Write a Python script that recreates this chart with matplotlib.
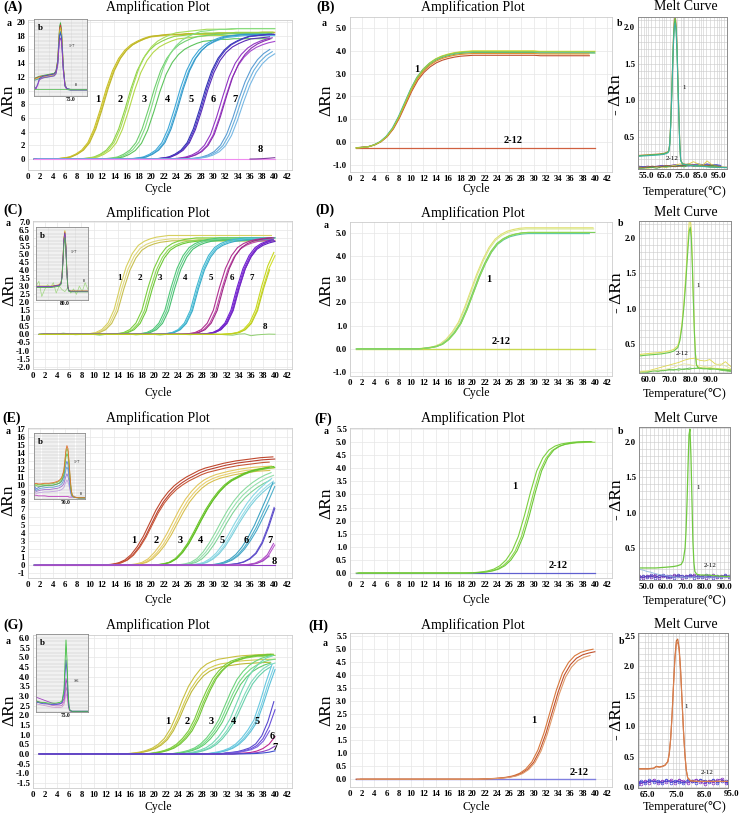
import numpy as np
import matplotlib
matplotlib.use("Agg")
import matplotlib.pyplot as plt
from matplotlib.ticker import MultipleLocator

plt.rcParams['font.family'] = ['Liberation Serif', 'DejaVu Serif', 'DejaVu Sans']
plt.rcParams['axes.unicode_minus'] = False

# ======================= DATA =======================
cycle_ticks = list(range(0, 43, 2))

# ---- Panel A amplification (dRn per cycle 1..40) ----
A1 = [0,0,0,0,.05,.15,.3,.7,1.3,2.4,4.4,7.2,10.3,12.9,14.7,15.9,16.7,17.2,17.6,17.9,18.0,18.1,18.2,18.2,18.2,18.3,18.3,18.3,18.3,18.3,18.4,18.4,18.4,18.4,18.4,18.4,18.4,18.5,18.5,18.5]
A2 = [0,0,0,0,0,0,0,0,.05,.15,.3,.7,1.3,2.4,4.4,7.2,10.3,12.9,14.7,15.9,16.7,17.2,17.6,17.9,18.0,18.1,18.2,18.3,18.4,18.4,18.4,18.4,18.4,18.5,18.5,18.5,18.5,18.5,18.5,18.5]
A3 = [0,0,0,0,0,0,0,0,0,0,0,0,.05,.15,.3,.7,1.3,2.4,4.4,7.2,10.3,12.9,14.7,15.9,16.7,17.2,17.6,17.9,18.0,18.1,18.2,18.2,18.3,18.3,18.3,18.3,18.3,18.3,18.3,18.3]
A4 = [0,0,0,0,0,0,0,0,0,0,0,0,0,0,0,0,.05,.15,.3,.7,1.3,2.4,4.4,7.2,10.3,12.9,14.7,15.9,16.7,17.2,17.6,17.9,18.0,18.1,18.2,18.2,18.2,18.2,18.2,18.2]
A5 = [0,0,0,0,0,0,0,0,0,0,0,0,0,0,0,0,0,0,0,0,.05,.15,.3,.7,1.3,2.4,4.4,7.2,10.3,12.9,14.7,15.9,16.7,17.2,17.6,17.9,18.0,18.1,18.2,18.2]
A6 = [0,0,0,0,0,0,0,0,0,0,0,0,0,0,0,0,0,0,0,0,0,0,0,.05,.15,.3,.6,1.1,2.0,3.6,6.2,9.2,12.0,14.0,15.3,16.2,16.8,17.2,17.5,17.7]
A7 = [0,0,0,0,0,0,0,0,0,0,0,0,0,0,0,0,0,0,0,0,0,0,0,0,0,0,.05,.15,.3,.6,1.1,2.0,3.6,6.0,8.8,11.3,13.2,14.5,15.4,16.0]
A_groups = [A1, A2, A3, A4, A5, A6, A7]
A_dx = [[-.3, -.15, 0], [-.3, 0, .3], [-.5, 0, .4], [-.3, 0, .2], [-.2, 0, .15], [-.4, 0, .2], [-.8, -.4, 0]]
A_sc = [[1, .995, 1], [1, 1.03, .98], [1, 1.04, .96], [1, .99, 1.0], [1, 1.0, .98], [1, .97, 1.0], [1, .98, .96]]
A_cols = [['#c8bf2a', '#d6cc3a', '#bdb52a'], ['#8fd24a', '#a6dc5a', '#b5d84a'],
          ['#6fcf6f', '#86dc86', '#5cc45c'], ['#3fa8d8', '#52b4e0', '#3598c8'],
          ['#3232b4', '#4a3ec4', '#5a2ab8'], ['#9236c4', '#a64ad0', '#8a2cb0'],
          ['#5c9ed4', '#6cb0dc', '#78b8e4']]
A8_x = [1, 40]; A8_y = [0, 0]
A8_tail_x = [36, 37, 38, 39, 40]; A8_tail_y = [0, .02, .06, .12, .2]
A_lab = ['1', '2', '3', '4', '5', '6', '7', '8']
A_lab_x = [11.3, 15.0, 18.8, 22.6, 26.4, 30.1, 33.6, 37.6]
A_lab_y = [8.7, 8.7, 8.7, 8.7, 8.7, 8.7, 8.7, 1.4]

# inset A (melt)
IA_t = [55,56,57,58,60,62,64,66,67,68,68.5,69,69.5,70,70.5,71,72,73,75,78,81,84]
IA_hi = [0.24,0.25,0.26,0.27,0.28,0.29,0.30,0.31,0.34,0.5,0.75,0.95,1.0,0.92,0.7,0.42,0.15,0.1,0.09,0.09,0.09,0.09]
IA_dip = [0.14,0.1,0.16,0.24,0.27,0.28,0.29,0.3,0.33,0.45,0.65,0.82,0.86,0.8,0.6,0.38,0.14,0.1,0.09,0.09,0.09,0.09]
IA_flat = [0.09,0.09,0.09,0.09,0.09,0.09,0.09,0.09,0.09,0.09,0.09,0.09,0.09,0.09,0.09,0.09,0.09,0.09,0.09,0.09,0.09,0.09]

# ---- Panel B ----
B1 = [-.25,-.23,-.2,-.12,.02,.25,.6,1.1,1.7,2.3,2.8,3.15,3.4,3.58,3.7,3.78,3.84,3.88,3.9,3.92,3.92,3.92,3.92,3.92,3.92,3.92,3.92,3.92,3.92,3.92,3.9,3.9,3.9,3.9,3.9,3.9,3.9,3.9,3.9,3.9]
B_dx = [0, 0, .1, -.1, .05, 0]
B_sc = [1.02, 1.0, .97, 1.01, .99, 1.015]
B_cols = ['#e8e040', '#60c060', '#c05030', '#40b0b0', '#e09030', '#a0d040']
B_flat_x = [1, 40]; B_flat_y = [-.25, -.25]
B_melt_t = [50.6,53,56,59,62,65,66,67,67.5,68,68.5,69,69.5,70,70.5,71,71.5,72,72.5,73,73.5,74,75,77,80,85,90,99.4]
B_melt = [0.24,0.245,0.25,0.255,0.26,0.27,0.28,0.29,0.31,0.4,0.65,1.0,1.4,1.8,2.05,2.12,2.0,1.7,1.25,0.8,0.4,0.18,0.13,0.12,0.11,0.1,0.09,0.08]
B_melt_sc = [1.02, 1.0, 0.97]
B_melt_cols = ['#e08040', '#50c050', '#40b0a0']
B_neg_t = [51,53.5,56,58.5,61,63.5,66,68.5,71,73.5,76,78.5,81,83.5,86,88.5,91,93.5,96]
B_neg = [[0.08,0.09,0.1,0.09,0.1,0.11,0.1,0.11,0.12,0.11,0.12,0.13,0.12,0.13,0.12,0.13,0.12,0.11,0.1],
         [0.1,0.09,0.08,0.09,0.09,0.1,0.09,0.1,0.1,0.11,0.11,0.1,0.11,0.12,0.11,0.12,0.11,0.12,0.11],
         [0.07,0.08,0.07,0.08,0.09,0.09,0.08,0.1,0.11,0.13,0.12,0.13,0.16,0.13,0.11,0.17,0.12,0.1,0.09],
         [0.07,0.07,0.08,0.08,0.07,0.09,0.09,0.09,0.1,0.1,0.09,0.11,0.1,0.11,0.1,0.1,0.11,0.1,0.09],
         [0.09,0.08,0.09,0.1,0.09,0.09,0.11,0.1,0.09,0.1,0.11,0.11,0.1,0.1,0.11,0.11,0.1,0.1,0.09]]
B_neg_cols = ['#7040a0', '#4050c0', '#e0d040', '#40a040', '#906030']

# ---- Panel C ----
C1 = [0,0,0,0,0,0,0,0,.02,.05,.12,.3,.7,1.5,2.9,4.1,4.9,5.4,5.65,5.8,5.9,5.95,6.0,6.0,6.0,6.0,6.0,6.0,6.0,6.0,6.0,6.0,6.0,6.0,6.0,6.0,6.0,6.0,6.0,6.0]
C2 = [0,0,0,0,0,0,0,0,0,0,0,0,.02,.05,.12,.3,.7,1.5,2.9,4.1,4.9,5.4,5.65,5.8,5.9,5.95,6.0,6.0,6.0,6.0,6.0,6.0,6.0,6.0,6.0,6.0,6.0,6.0,6.0,6.0]
C3 = [0,0,0,0,0,0,0,0,0,0,0,0,0,0,0,0,.02,.05,.12,.3,.7,1.5,2.9,4.1,4.9,5.4,5.65,5.8,5.9,5.95,6.0,6.0,6.0,6.0,6.0,6.0,6.0,6.0,6.0,6.0]
C4 = [0,0,0,0,0,0,0,0,0,0,0,0,0,0,0,0,0,0,0,0,.02,.05,.12,.3,.7,1.5,2.9,4.1,4.9,5.4,5.65,5.8,5.9,5.95,6.0,6.0,6.0,6.0,6.0,6.0]
C5 = [0,0,0,0,0,0,0,0,0,0,0,0,0,0,0,0,0,0,0,0,0,0,0,0,.02,.05,.12,.3,.7,1.5,2.9,4.1,4.9,5.4,5.65,5.8,5.9,5.95,6.0,6.0]
C6 = [0,0,0,0,0,0,0,0,0,0,0,0,0,0,0,0,0,0,0,0,0,0,0,0,0,0,0,.02,.05,.12,.3,.7,1.5,2.9,4.1,4.9,5.4,5.65,5.8,5.9]
C7 = [0,0,0,0,0,0,0,0,0,0,0,0,0,0,0,0,0,0,0,0,0,0,0,0,0,0,0,0,0,0,0,.02,.05,.12,.3,.7,1.5,2.9,4.1,4.9]
C_groups = [C1, C2, C3, C4, C5, C6, C7]
C_dx = [[-.6, -.3, 0], [0, .4, .7], [-.2, .1, .4], [0, .2, .35], [-.2, .2, .45], [-.3, -.15, 0, .1], [-.2, 0, .1]]
C_sc = [[1.025, .99, .97], [1, .98, .97], [1, .99, .98], [1, .99, .98], [1, .98, 1.0], [1, .99, .98, 1.0], [1.04, 1.0, .98]]
C_cols = [['#d8d060', '#e0d880', '#c8c050'], ['#7ccf40', '#90d858', '#6cc838'],
          ['#50c878', '#68d090', '#48c070'], ['#40b8d0', '#58c4dc', '#38acc8'],
          ['#b03090', '#c050a8', '#a02888'], ['#7020d0', '#8030d8', '#6020c0', '#7828c8'],
          ['#c8d820', '#d4e030', '#bccc20']]
C8 = [0,0,0,.02,.08,.03,-.02,0,.02,0,-.05,0,.03,.01,0,.02,-.03,0,.02,0,-.04,0,.02,.03,0,-.02,.01,0,.03,.02,0,-.03,-.05,.02,.04,-.08,-.03,0,.02,.01]
C_lab_x = [14.3, 17.6, 21.0, 25.2, 29.4, 32.8, 36.1, 38.4]
C_lab_y = [3.5, 3.5, 3.5, 3.5, 3.5, 3.5, 3.5, 0.45]

IC_t = [65,67,69,71,73,75,77,78,78.5,79,79.5,80,80.5,81,81.5,82,83,85,87,89,91,92]
IC_hi = [0.2,0.2,0.2,0.2,0.2,0.21,0.22,0.25,0.35,0.6,0.9,1.0,0.8,0.45,0.2,0.14,0.13,0.13,0.13,0.13,0.13,0.13]
IC_noise_t = [65,66.5,68,69.5,71,72.5,74,75.5,77,78.5,80,81.5,83,84.5,86,87.5,89,90.5,92]
IC_noise = [0.2,0.27,0.05,0.15,0.22,0.18,0.25,0.1,0.2,0.15,0.12,0.18,0.1,0.16,0.08,0.2,0.12,0.25,0.15]

# ---- Panel D ----
D1 = [0,0,0,0,0,0,0,0,0,0,0,.02,.05,.1,.2,.4,.7,1.1,1.7,2.4,3.1,3.7,4.2,4.55,4.75,4.88,4.95,5.0,5.02,5.02,5.02,5.02,5.02,5.02,5.02,5.02,5.02,5.02,5.02,5.02]
D_dx = [-.3, -.2, 0, .1, .15]
D_sc = [1.04, 1.03, 1.0, .99, 1.0]
D_cols = ['#e0e070', '#d8e890', '#7cd05c', '#5cc8a0', '#90d850']
D_flat_x = [1, 40]; D_flat_y = [0, 0]
D_melt_t = [55.2,58,62,66,70,72,74,75,76,77,78,79,79.5,80,80.5,81,81.5,82,82.5,83,84,86,90,95,99.7]
D_melt = [0.33,0.34,0.35,0.36,0.38,0.4,0.45,0.55,0.75,1.05,1.45,1.9,2.1,2.15,2.0,1.6,1.1,0.65,0.35,0.2,0.16,0.15,0.15,0.14,0.13]
D_melt_sc = [1.06, 1.0]
D_melt_cols = ['#e0e060', '#6cc84c']
D_neg_t = [55.2,57,59.5,62,64.5,67,69.5,72,74.5,77,79.5,82,84.5,87,89.5,92,94.5,97,99.7]
D_neg = [[0.1,0.11,0.1,0.12,0.13,0.12,0.14,0.13,0.15,0.14,0.16,0.15,0.17,0.15,0.16,0.15,0.14,0.13,0.12],
         [0.12,0.1,0.11,0.12,0.11,0.13,0.13,0.14,0.13,0.15,0.14,0.16,0.15,0.16,0.14,0.15,0.13,0.12,0.11],
         [0.1,0.11,0.12,0.14,0.16,0.18,0.2,0.22,0.24,0.27,0.29,0.3,0.27,0.26,0.28,0.22,0.2,0.25,0.18],
         [0.11,0.12,0.12,0.13,0.13,0.14,0.15,0.17,0.2,0.22,0.21,0.19,0.2,0.18,0.17,0.2,0.22,0.19,0.15]]
D_neg_cols = ['#50b040', '#70c850', '#e0d850', '#e8e8a0']

# ---- Panel E ----
E1 = [0,0,0,0,0,0,0,0,0,0,0,0,.05,.12,.3,.65,1.3,2.3,3.6,5.2,6.8,8.1,9.1,9.9,10.5,11.0,11.4,11.8,12.1,12.3,12.5,12.7,12.85,13.0,13.1,13.2,13.3,13.4,13.45,13.5]
E2 = [0,0,0,0,0,0,0,0,0,0,0,0,0,0,0,0,.05,.15,.35,.8,1.6,2.6,3.9,5.4,6.9,8.2,9.2,10.0,10.6,11.0,11.3,11.5,11.7,11.85,12.0,12.1,12.2,12.25,12.3,12.35]
E3 = [0,0,0,0,0,0,0,0,0,0,0,0,0,0,0,0,0,0,0,0,.05,.15,.35,.8,1.6,2.7,4.1,5.6,7.0,8.2,9.2,10.0,10.6,11.0,11.4,11.7,11.9,12.05,12.2,12.3]
E4 = [0,0,0,0,0,0,0,0,0,0,0,0,0,0,0,0,0,0,0,0,0,0,0,0,.05,.15,.35,.8,1.6,2.7,4.0,5.4,6.7,7.8,8.7,9.4,10.0,10.5,10.9,11.2]
E5 = [0,0,0,0,0,0,0,0,0,0,0,0,0,0,0,0,0,0,0,0,0,0,0,0,0,0,.05,.15,.35,.8,1.5,2.5,3.8,5.2,6.5,7.7,8.7,9.5,10.2,10.8]
E6 = [0,0,0,0,0,0,0,0,0,0,0,0,0,0,0,0,0,0,0,0,0,0,0,0,0,0,0,0,0,.05,.15,.35,.7,1.3,2.2,3.4,4.8,6.5,8.2,10.0]
E7 = [0,0,0,0,0,0,0,0,0,0,0,0,0,0,0,0,0,0,0,0,0,0,0,0,0,0,0,0,0,0,0,.05,.1,.2,.4,.8,1.5,2.8,4.8,7.2]
E8 = [0,0,0,0,0,0,0,0,0,0,0,0,0,0,0,0,0,0,0,0,0,0,0,0,0,0,0,0,0,0,0,0,0,0,.05,.1,.25,.6,1.3,2.7]
E_groups = [E1, E2, E3, E4, E5, E6, E7, E8]
E_dx = [[-.3, 0, .1], [-.5, -.1, .2], [-.15, 0, .1], [-.6, -.2, .2], [-.5, -.2, 0], [-.3, 0, .1], [-.1, 0], [-.2, 0, .1]]
E_sc = [[1.0, .98, .955], [1, .98, .96], [1, .99, 1.0], [1.03, 1, .97], [1.0, .97, .95], [1.03, .98, .91], [1, .98], [1.0, .93, .87]]
E_cols = [['#c0482e', '#b84030', '#c85838'], ['#e2c860', '#e8d070', '#d8c050'],
          ['#6cc62c', '#78cc38', '#62be28'], ['#8cdca0', '#98e0b0', '#80d498'],
          ['#88d8e4', '#98dce8', '#7cd0dc'], ['#3fa4c4', '#50b0cc', '#48a8c8'],
          ['#6a5ad0', '#5a4ac8'], ['#b050c8', '#c060d0', '#a048c0']]
E9_x = [1, 40]; E9_y = [0, 0]
E_lab_x = [17.2, 20.8, 24.6, 27.9, 31.5, 35.4, 39.3, 40.0]
E_lab_y = [3.1, 3.1, 3.1, 3.1, 3.1, 3.1, 3.1, 0.4]

IE_t = [55,56,57,58,60,62,64,66,67,68,69,69.5,70,70.5,71,71.5,72,72.5,73,74,76,79]
IE_hi = [0.24,0.25,0.24,0.24,0.25,0.25,0.26,0.28,0.3,0.34,0.45,0.6,0.78,0.85,0.8,0.6,0.35,0.15,0.06,0.03,0.02,0.02]
IE_mid = [0.22,0.16,0.18,0.2,0.21,0.22,0.22,0.24,0.25,0.28,0.35,0.45,0.55,0.6,0.55,0.4,0.22,0.1,0.05,0.03,0.02,0.02]
IE_lo = [0.15,0.12,0.13,0.14,0.15,0.15,0.16,0.17,0.18,0.2,0.24,0.3,0.36,0.4,0.36,0.28,0.16,0.08,0.04,0.03,0.02,0.02]
IE_flat = [0.06,0.06,0.05,0.05,0.05,0.04,0.04,0.04,0.04,0.04,0.04,0.04,0.04,0.04,0.04,0.03,0.03,0.03,0.03,0.03,0.02,0.02]

# ---- Panel F ----
F1 = [0,0,0,0,0,0,0,0,0,0,0,0,0,0,0,0,0,0,0,.01,.02,.04,.08,.15,.28,.5,.85,1.4,2.2,3.1,3.9,4.4,4.7,4.85,4.93,4.97,5.0,5.01,5.02,5.02]
F_dx = [-.5, 0, .3]
F_sc = [1.0, .995, 1.0]
F_cols = ['#7cd040', '#90d850', '#6cc838']
F_flat_x = [1, 40]; F_flat_y = [0, 0]
F_melt_t = [46.4,50,55,60,64,66,68,69,70,70.5,71,71.5,72,72.5,73,73.5,74,74.5,75,76,78,82,86,90,93]
F_melt = [0.22,0.22,0.22,0.23,0.24,0.25,0.27,0.32,0.5,0.75,1.15,1.65,2.1,2.18,1.8,1.2,0.6,0.3,0.17,0.13,0.12,0.12,0.11,0.1,0.1]
F_neg_t = [46.4,48.5,50.5,52.5,54.5,56.5,58.5,60.5,62.5,64.5,66.5,68.5,70.5,72.5,74.5,76.5,78.5,80.5,82.5,84.5,86.5,88.5,90.5,92.5]
F_neg = [[0.1,0.08,0.11,0.09,0.12,0.08,0.1,0.11,0.09,0.12,0.1,0.08,0.11,0.1,0.12,0.09,0.11,0.08,0.1,0.12,0.09,0.11,0.1,0.09],
         [0.08,0.11,0.09,0.12,0.08,0.11,0.12,0.09,0.1,0.08,0.12,0.11,0.09,0.12,0.08,0.11,0.09,0.12,0.1,0.08,0.11,0.09,0.12,0.1],
         [0.2,0.19,0.17,0.16,0.14,0.13,0.12,0.11,0.1,0.09,0.09,0.09,0.09,0.09,0.09,0.09,0.09,0.09,0.09,0.09,0.09,0.09,0.09,0.09]]
F_neg_cols = ['#7030b0', '#5040c0', '#90b8e0']
F_neg_mark = ['o', 'o', None]

# ---- Panel G ----
G1 = [0,0,0,0,0,0,0,0,0,0,0,0,0,0,0,.02,.05,.1,.18,.3,.5,.8,1.3,2.0,2.8,3.5,4.0,4.4,4.65,4.8,4.9,4.95,5.0,5.05,5.08,5.1,5.12,5.14,5.15,5.15]
G2 = [0,0,0,0,0,0,0,0,0,0,0,0,0,0,0,0,0,0,0,.05,.1,.18,.3,.5,.8,1.2,1.8,2.6,3.3,3.9,4.3,4.6,4.8,4.9,5.0,5.05,5.1,5.1,5.15,5.15]
G3 = [0,0,0,0,0,0,0,0,0,0,0,0,0,0,0,0,0,0,0,0,0,0,0,.05,.1,.18,.3,.5,.8,1.2,1.7,2.4,3.1,3.7,4.1,4.4,4.6,4.75,4.85,4.9]
G4 = [0,0,0,0,0,0,0,0,0,0,0,0,0,0,0,0,0,0,0,0,0,0,0,0,0,.05,.1,.18,.3,.5,.8,1.2,1.7,2.4,3.1,3.7,4.1,4.4,4.6,4.7]
G5 = [0,0,0,0,0,0,0,0,0,0,0,0,0,0,0,0,0,0,0,0,0,0,0,0,0,0,0,0,0,.05,.1,.18,.3,.5,.8,1.2,1.7,2.6,3.6,4.5]
G6 = [0,0,0,0,0,0,0,0,0,0,0,0,0,0,0,0,0,0,0,0,0,0,0,0,0,0,0,0,0,0,0,.05,.08,.12,.2,.3,.5,.9,1.6,2.6]
G7 = [0,0,0,0,0,0,0,0,0,0,0,0,0,0,0,0,0,0,0,0,0,0,0,0,0,0,0,0,0,0,0,0,0,.03,.05,.08,.15,.28,.5,.9]
G_groups = [G1, G2, G3, G4, G5, G6, G7]
G_dx = [[-.3, 0, .2], [-.3, 0, .3], [-.3, 0, .3], [-.4, 0, .3], [-.5, -.2, 0], [-.2, 0, .1], [0, 0, 0]]
G_sc = [[1.0, .95, .92], [1.0, .99, 1.0], [1.04, 1.0, .97], [1.08, 1.0, .98], [1.03, 1.0, .97], [1.04, .88, .75], [1.0, .45, .18]]
G_cols = [['#c8c040', '#d4cc50', '#beb838'], ['#7ccc3c', '#88d448', '#70c434'],
          ['#6cd47c', '#78dc88', '#60cc70'], ['#74d8b4', '#80dcbc', '#68d0ac'],
          ['#68c8e0', '#78d0e4', '#5cc0d8'], ['#5a4ad0', '#6a50d8', '#7a60e0'],
          ['#c02890', '#9040c0', '#4050d0']]
G_lab_x = [22.2, 25.4, 29.4, 33.2, 37.1, 39.5, 40.0]
G_lab_y = [1.67, 1.67, 1.67, 1.67, 1.67, 0.9, 0.33]

IG_t = [60,61,62,64,66,68,70,72,73,74,74.5,75,75.5,76,76.5,77,78,80,83,86]
IG_hi = [0.15,0.14,0.13,0.13,0.12,0.12,0.12,0.13,0.15,0.3,0.65,0.97,0.7,0.3,0.08,0.02,0.01,0.01,0.01,0.01]
IG_mid = [0.12,0.13,0.12,0.11,0.11,0.1,0.1,0.11,0.13,0.25,0.5,0.7,0.55,0.25,0.07,0.02,0.01,0.01,0.01,0.01]
IG_lo = [0.2,0.19,0.18,0.16,0.14,0.12,0.11,0.11,0.12,0.18,0.3,0.45,0.38,0.18,0.06,0.02,0.01,0.01,0.01,0.01]

# ---- Panel H ----
H1 = [0,0,0,0,0,0,0,0,0,0,0,0,0,0,0,0,0,0,0,0,0,.01,.02,.03,.05,.08,.13,.22,.38,.65,1.1,1.75,2.55,3.35,4.0,4.4,4.65,4.78,4.85,4.9]
H_dx = [-.3, 0, .2]
H_sc = [1.02, 1.0, .98]
H_cols = ['#d8783c', '#c0502c', '#e09a6a']
H_flat_x = [1, 40]; H_flat_y = [0, 0]
H_melt_t = [61.5,63,65,67,68,69,70,71,72,72.5,73,73.5,74,74.5,75,75.5,76,76.5,77,77.5,78,78.5,79,80,82,85,88,91,93.2]
H_melt = [0.3,0.3,0.3,0.31,0.34,0.33,0.34,0.36,0.42,0.55,0.8,1.2,1.7,2.15,2.42,2.45,2.3,1.95,1.45,0.95,0.55,0.28,0.15,0.1,0.09,0.09,0.09,0.09,0.09]
H_melt_sc = [1.0, 0.98]
H_melt_cols = ['#c8642c', '#d88050']
H_neg_t = [61.5,62.5,64,65.5,67,68.5,70,71.5,73,74.5,76,77.5,79,80.5,82,83.5,85,86.5,88,89.5,91,92.5,93.2]
H_neg = [[0.08,0.05,0.1,0.07,0.12,0.06,0.1,0.08,0.11,0.07,0.12,0.09,0.06,0.1,0.12,0.08,0.05,0.1,0.07,0.11,0.13,0.06,0.09],
         [0.05,0.09,0.06,0.11,0.08,0.1,0.06,0.12,0.07,0.1,0.08,0.06,0.11,0.09,0.07,0.12,0.1,0.08,0.12,0.06,0.1,0.09,0.07]]
H_neg_cols = ['#8030c0', '#4040d0']

# ======================= FIGURE =======================
W, H = 740, 814
fig = plt.figure(figsize=(W / 100, H / 100), dpi=100)


def box(l, t, r, b):
    return [l / W, 1 - b / H, (r - l) / W, (b - t) / H]


def ftext(x, y, s, **kw):
    fig.text(x / W, 1 - y / H, s, **kw)


def amp_axes(rect, ylim, yticks, fmt):
    ax = fig.add_axes(box(*rect))
    ax.set_xlim(0, 42.8)
    ax.set_ylim(*ylim)
    ax.set_xticks(cycle_ticks)
    ax.set_xticklabels([str(t) for t in cycle_ticks], fontsize=6.3, fontweight='bold')
    ax.set_yticks(list(yticks))
    ax.set_yticklabels([fmt % t for t in yticks], fontsize=6.3, fontweight='bold')
    ax.tick_params(length=0, pad=2)
    ax.grid(True, color='#e6e6e6', lw=0.5)
    ax.set_axisbelow(True)
    for s in ax.spines.values():
        s.set_color('#cccccc')
        s.set_linewidth(0.6)
    return ax


def melt_axes(rect, xlim, ylim, xticks, yticks):
    ax = fig.add_axes(box(*rect))
    ax.set_xlim(*xlim)
    ax.set_ylim(*ylim)
    ax.set_xticks(xticks)
    ax.set_xticklabels(['%.1f' % t for t in xticks], fontsize=6.3, fontweight='bold')
    ax.set_yticks(yticks)
    ax.set_yticklabels(['%.1f' % t for t in yticks], fontsize=6.3, fontweight='bold')
    ax.xaxis.set_minor_locator(MultipleLocator(2))
    ax.yaxis.set_minor_locator(MultipleLocator(0.1))
    ax.grid(True, which='both', color='#cacaca', lw=0.4)
    ax.set_axisbelow(True)
    ax.tick_params(which='both', length=0, pad=2)
    for s in ax.spines.values():
        s.set_color('#8c8c8c')
        s.set_linewidth(0.7)
    return ax


def inset_axes(rect, xlim, tick):
    ax = fig.add_axes(box(*rect), zorder=5)
    ax.set_xlim(*xlim)
    ax.set_ylim(0, 1.05)
    ax.set_xticks([tick])
    ax.set_xticklabels(['%.1f' % tick], fontsize=4, fontweight='bold')
    ax.set_yticks([])
    ax.xaxis.set_minor_locator(MultipleLocator(1))
    ax.yaxis.set_minor_locator(MultipleLocator(0.05))
    ax.grid(True, which='both', color='#c0c0c0', lw=0.3)
    ax.set_axisbelow(True)
    ax.tick_params(which='both', length=0, pad=1)
    for s in ax.spines.values():
        s.set_color('#8c8c8c')
        s.set_linewidth(0.6)
    ax.text(0.08, 0.93, 'b', transform=ax.transAxes, fontsize=6.5, fontweight='bold', va='top')
    return ax


def draw_groups(ax, groups, dxs, scs, cols, lw=0.8):
    for vals, dl, sl, cl in zip(groups, dxs, scs, cols):
        v = np.array(vals, dtype=float)
        x = np.arange(1, len(v) + 1)
        for dx, s, c in zip(dl, sl, cl):
            xx = x + dx
            m = (xx >= 1) & (xx <= 40)
            ax.plot(xx[m], v[m] * s, color=c, lw=lw)


def draw_reps(ax, vals, dxs, scs, cols, lw=0.8):
    draw_groups(ax, [vals], [dxs], [scs], [cols], lw)


def labels(ax, labs, xs, ys, size=7.5):
    for l, x, y in zip(labs, xs, ys):
        ax.text(x, y, l, fontsize=size, fontweight='bold', ha='center', va='center')


title_kw = dict(fontsize=10, ha='center', va='center')
cyc_kw = dict(fontsize=8.5, ha='center', va='center')
yl_kw = dict(fontsize=12.5, ha='center', va='center', rotation=90)
pl_kw = dict(fontsize=10, fontweight='bold', ha='left', va='center')
ab_kw = dict(fontsize=7, fontweight='bold', ha='center', va='center')
ml_kw = dict(fontsize=5, ha='center', va='center')

# ---------------- Row 1 ----------------
axA = amp_axes((28, 20, 292, 170), (-1.6, 20.3), range(0, 21, 2), '%d')
draw_groups(axA, A_groups, A_dx, A_sc, A_cols)
axA.plot(A8_x, A8_y, color='#f08cf0', lw=0.8)
axA.plot(A8_tail_x, A8_tail_y, color='#8040a0', lw=0.8)
labels(axA, A_lab, A_lab_x, A_lab_y)
iA = inset_axes((34, 19, 87, 96), (55, 84), 75)
for sc, c in zip([1.0, 0.97, 0.93, 0.88], ['#40b040', '#d04040', '#c8c030', '#40a0a0']):
    iA.plot(IA_t, np.array(IA_hi) * sc, color=c, lw=0.6)
for sc, c in zip([1.0, 0.92], ['#4050c8', '#a040c0']):
    iA.plot(IA_t, np.array(IA_dip) * sc, color=c, lw=0.6)
iA.plot(IA_t, IA_flat, color='#60c060', lw=0.6)
iA.text(0.66, 0.64, '1~7', transform=iA.transAxes, fontsize=3)
iA.text(0.77, 0.13, '8', transform=iA.transAxes, fontsize=3)

axB = amp_axes((350, 17, 612, 172), (-1.31, 5.48), np.arange(-1, 5.01, 1.0), '%.1f')
axB.plot(B_flat_x, B_flat_y, color='#d06040', lw=0.9)
draw_reps(axB, B1, B_dx, B_sc, B_cols)
labels(axB, ['1', '2-12'], [10.9, 26.6], [3.2, 0.05])

mB = melt_axes((638, 17, 727, 169), (50.6, 99.4), (0.06, 2.14), [55, 65, 75, 85, 95], [0.5, 1.0, 1.5, 2.0])
for vals, c in zip(B_neg, B_neg_cols):
    mB.plot(B_neg_t, vals, color=c, lw=0.6)
for sc, c in zip(B_melt_sc, B_melt_cols):
    mB.plot(B_melt_t, np.array(B_melt) * sc, color=c, lw=0.8)
mB.text(75.7, 1.18, '1', **ml_kw)
mB.text(69.1, 0.2, '2-12', **ml_kw)

# ---------------- Row 2 ----------------
axC = amp_axes((33, 221, 292, 369), (-2.15, 7.05), np.arange(-2, 7.01, 0.5), '%.1f')
axC.plot(np.arange(1, len(C8) + 1), C8, color='#90d070', lw=0.7)
draw_groups(axC, C_groups, C_dx, C_sc, C_cols)
labels(axC, A_lab, C_lab_x, C_lab_y, size=6.5)
iC = inset_axes((36, 227, 88, 300), (65, 92), 80)
iC.plot(IC_noise_t, IC_noise, color='#a0d880', lw=0.5)
for sc, c in zip([1.0, 0.98, 0.96, 0.94, 0.9], ['#d0d040', '#d04040', '#4050c8', '#a040c0', '#50b050']):
    iC.plot(IC_t, np.array(IC_hi) * sc, color=c, lw=0.6)
iC.text(0.66, 0.64, '1~7', transform=iC.transAxes, fontsize=3)
iC.text(0.9, 0.24, '8', transform=iC.transAxes, fontsize=3)

axD = amp_axes((350, 222, 612, 376), (-1.17, 5.47), np.arange(-1, 5.01, 1.0), '%.1f')
axD.plot(D_flat_x, D_flat_y, color='#c8d850', lw=1.0)
draw_reps(axD, D1, D_dx, D_sc, D_cols)
labels(axD, ['1', '2-12'], [22.6, 24.7], [3.0, 0.33])

mD = melt_axes((639, 221, 731, 373), (55.2, 99.7), (0.09, 2.24), [60, 70, 80, 90], [0.5, 1.0, 1.5, 2.0])
for vals, c in zip(D_neg, D_neg_cols):
    mD.plot(D_neg_t, vals, color=c, lw=0.6)
for sc, c in zip(D_melt_sc, D_melt_cols):
    mD.plot(D_melt_t, np.array(D_melt) * sc, color=c, lw=0.8)
mD.text(83.7, 1.33, '1', **ml_kw)
mD.text(76.3, 0.36, '2-12', **ml_kw)

# ---------------- Row 3 ----------------
axE = amp_axes((28, 428, 292, 578), (-1.6, 17.1), range(-1, 18), '%d')
axE.plot(E9_x, E9_y, color='#9040c0', lw=0.8)
draw_groups(axE, E_groups, E_dx, E_sc, E_cols)
labels(axE, A_lab, E_lab_x, E_lab_y)
iE = inset_axes((34, 433, 85, 499), (55, 79), 70)
iE.plot(IE_t, IE_flat, color='#c040c0', lw=0.6)
for vals, sc, c in [(IE_lo, 0.75, '#c0a0e0'), (IE_lo, 1.0, '#a070d0'), (IE_mid, 0.85, '#60a0d0'),
                    (IE_mid, 1.0, '#6080e0'), (IE_hi, 0.85, '#60c040'), (IE_hi, 0.95, '#80c840'),
                    (IE_hi, 1.0, '#e07030')]:
    iE.plot(IE_t, np.array(vals) * sc, color=c, lw=0.6)
iE.text(0.78, 0.55, '1~7', transform=iE.transAxes, fontsize=3)
iE.text(0.9, 0.06, '8', transform=iE.transAxes, fontsize=3)

axF = amp_axes((350, 428, 612, 578), (-0.19, 5.54), np.arange(0, 5.51, 0.5), '%.1f')
axF.plot(F_flat_x, F_flat_y, color='#6060d0', lw=0.9)
draw_reps(axF, F1, F_dx, F_sc, F_cols)
labels(axF, ['1', '2-12'], [27.0, 34.0], [3.3, 0.3])

mF = melt_axes((639, 427, 730, 580), (46.4, 93), (0.05, 2.21), [50, 60, 70, 80, 90], [0.5, 1.0, 1.5, 2.0])
for vals, c, mk in zip(F_neg, F_neg_cols, F_neg_mark):
    mF.plot(F_neg_t, vals, color=c, lw=0.6, marker=mk, ms=2, mfc='none', mew=0.5)
mF.plot(F_melt_t, F_melt, color='#70c840', lw=0.9)
mF.text(76.7, 1.35, '1', **ml_kw)
mF.text(82.8, 0.26, '2-12', **ml_kw)

# ---------------- Row 4 ----------------
axG = amp_axes((33, 635, 292, 788), (-1.76, 6.15), np.arange(-1.5, 6.01, 0.5), '%.1f')
draw_groups(axG, G_groups, G_dx, G_sc, G_cols)
labels(axG, ['1', '2', '3', '4', '5', '6', '7'], G_lab_x, G_lab_y)
iG = inset_axes((36, 634, 88, 712), (60, 86), 75)
for vals, sc, c in [(IG_lo, 0.55, '#d0a0d0'), (IG_lo, 0.75, '#c070c0'), (IG_lo, 1.0, '#a040c0'),
                    (IG_mid, 1.0, '#5050d0'), (IG_hi, 1.0, '#40c040')]:
    iG.plot(IG_t, np.array(vals) * sc, color=c, lw=0.6)
iG.text(0.72, 0.38, '1-6', transform=iG.transAxes, fontsize=3)

axH = amp_axes((350, 633, 612, 787), (-0.3, 5.62), np.arange(0, 5.51, 0.5), '%.1f')
axH.plot(H_flat_x, H_flat_y, color='#8080e0', lw=1.0)
draw_reps(axH, H1, H_dx, H_sc, H_cols)
labels(axH, ['1', '2-12'], [30.0, 37.5], [2.27, 0.25])

mH = melt_axes((638, 633, 728, 788), (61.5, 93.2), (-0.02, 2.55), [65, 75, 85], [0.0, 0.5, 1.0, 1.5, 2.0, 2.5])
for vals, c in zip(H_neg, H_neg_cols):
    mH.plot(H_neg_t, vals, color=c, lw=0.6, marker='o', ms=2, mfc='none', mew=0.5)
for sc, c in zip(H_melt_sc, H_melt_cols):
    mH.plot(H_melt_t, np.array(H_melt) * sc, color=c, lw=0.8)
mH.text(78.4, 1.33, '1', **ml_kw)
mH.text(85.7, 0.23, '2-12', **ml_kw)
ftext(732, 794, '95.0', fontsize=6.3, fontweight='bold', ha='center', va='center')

# ---------------- figure texts ----------------
rows = [(7, 189, 192), (213, 393, 394), (418, 600, 601), (625, 807, 807)]
for (ty, cy, tey) in rows:
    ftext(158, ty, 'Amplification Plot', **title_kw)
    ftext(473, ty, 'Amplification Plot', **title_kw)
    ftext(686, ty, 'Melt Curve', **title_kw)
    ftext(158, cy, 'Cycle', **cyc_kw)
    ftext(476, cy, 'Cycle', **cyc_kw)
    ftext(685, tey, 'Temperature(\u2103)', fontsize=8.8, ha='center', va='center',
          family=['Liberation Serif', 'DejaVu Serif', 'DejaVu Sans'])

for (x, y) in [(8, 100), (9, 290), (8, 500), (9, 710), (326, 100), (326, 290), (326, 503), (326, 710)]:
    ftext(x, y, '\u0394Rn', **yl_kw)
for (x, y) in [(616, 95), (617, 293), (617, 500), (617, 720)]:
    ftext(x, y, '- \u0394Rn', **yl_kw)

for (x, y, s) in [(3, 7, '(A)'), (316, 7, '(B)'), (3, 210, '(C)'), (315, 210, '(D)'),
                  (2, 418, '(E)'), (314, 419, '(F)'), (3, 625, '(G)'), (308, 626, '(H)')]:
    ftext(x, y, s, **pl_kw)

for (x, y, s) in [(9, 23, 'a'), (324, 24, 'a'), (620, 24, 'b'),
                  (8, 224, 'a'), (326, 225, 'a'), (621, 224, 'b'),
                  (8, 432, 'a'), (326, 432, 'a'), (621, 431, 'b'),
                  (8, 641, 'a'), (325, 643, 'a'), (622, 642, 'b')]:
    ftext(x, y, s, **ab_kw)

fig.savefig('out.png', dpi=100)
